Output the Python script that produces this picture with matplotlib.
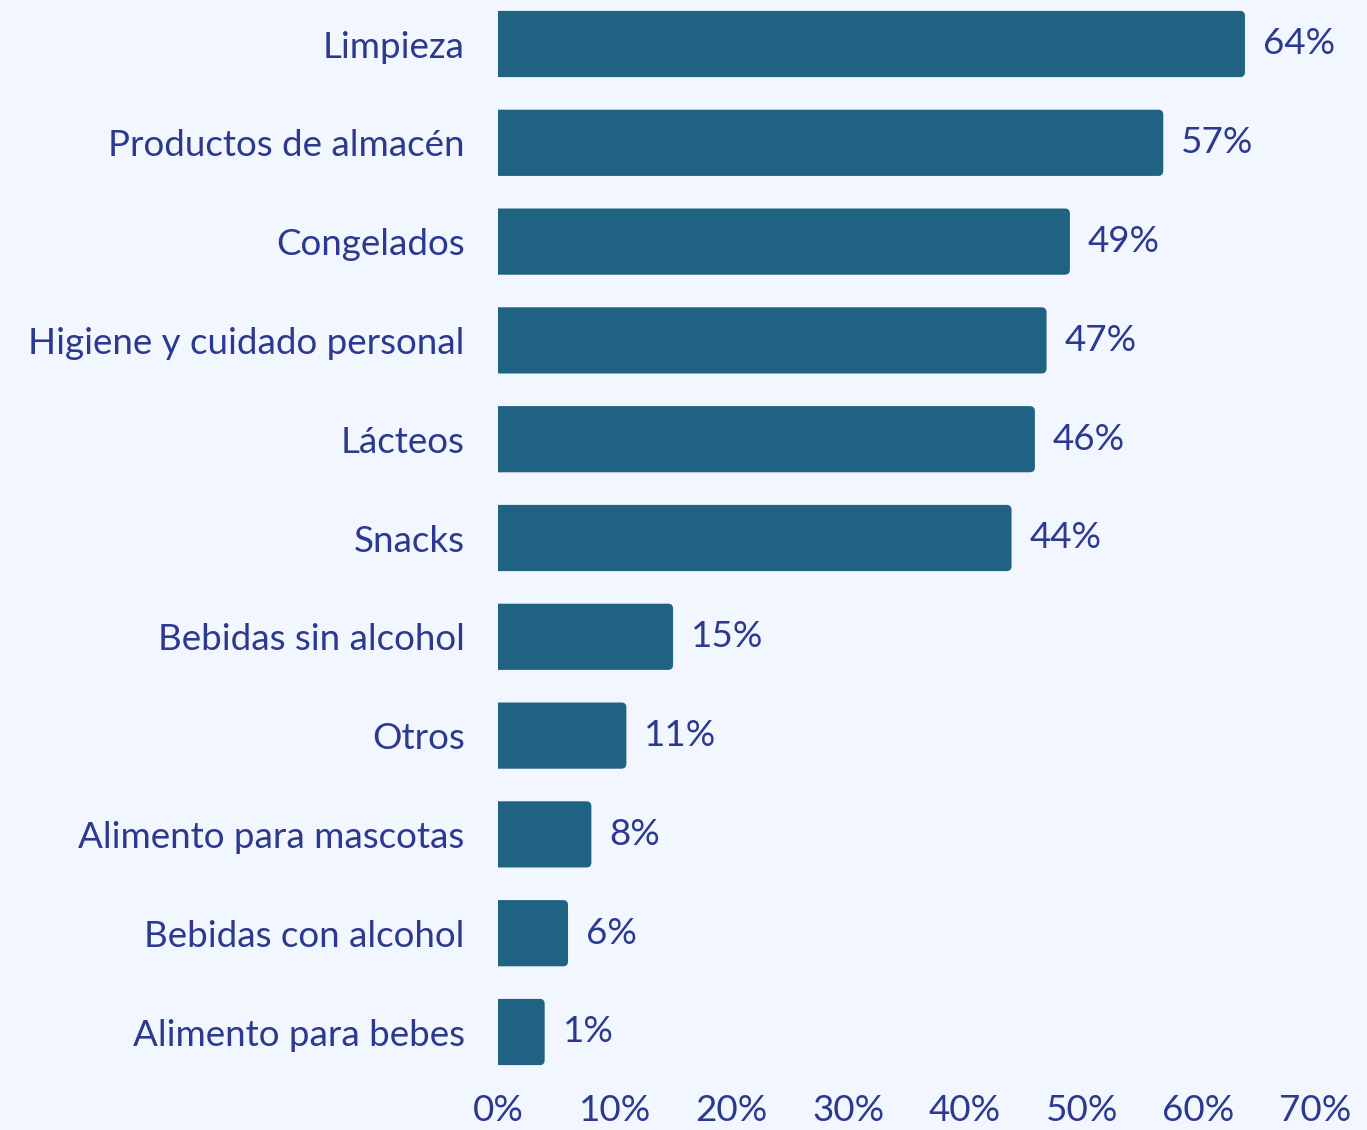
import matplotlib
matplotlib.use("Agg")
import matplotlib.pyplot as plt
from matplotlib.patches import PathPatch
from matplotlib.path import Path

categories = ["Limpieza", "Productos de almacén", "Congelados",
              "Higiene y cuidado personal", "Lácteos", "Snacks",
              "Bebidas sin alcohol", "Otros", "Alimento para mascotas",
              "Bebidas con alcohol", "Alimento para bebes"]
values = [64, 57, 49, 47, 46, 44, 15, 11, 8, 6, 1]
xticks = [0, 10, 20, 30, 40, 50, 60, 70]
xticklabels = ["0%", "10%", "20%", "30%", "40%", "50%", "60%", "70%"]

BG = "#F2F6FE"
BAR = "#1F6282"
TXT = "#2B3990"
MIN_LEN = 4  # minimum visible bar length
FS = 26.5

plt.rcParams['font.family'] = ['Lato', 'DejaVu Sans']

W, H = 1367, 1130
fig = plt.figure(figsize=(W / 100, H / 100), dpi=100, facecolor=BG)
left_px, right_px = 498, 1315
top_px, bot_px = 0, 1075
ax = fig.add_axes([left_px / W, 1 - bot_px / H, (right_px - left_px) / W, (bot_px - top_px) / H])
ax.set_facecolor(BG)

step = 98.8
a = 44 / step
ax.set_xlim(0, 70)
ax.set_ylim(bot_px / step - a, -a)

ypos = list(range(len(categories)))
disp = [max(v, MIN_LEN) for v in values]
bars = ax.barh(ypos, disp, height=0.67, color=BAR, linewidth=0)

px_x = (right_px - left_px) / 70.0
px_y = step
rx = 5 / px_x
ry = 5 / px_y
for rect in bars:
    x0, y0 = rect.get_x(), rect.get_y()
    w, h = rect.get_width(), rect.get_height()
    x1, y1 = x0 + w, y0 + h
    verts = [(x0, y0), (x1 - rx, y0), (x1, y0), (x1, y0 + ry),
             (x1, y1 - ry), (x1, y1), (x1 - rx, y1), (x0, y1), (x0, y0)]
    codes = [Path.MOVETO, Path.LINETO, Path.CURVE3, Path.CURVE3,
             Path.LINETO, Path.CURVE3, Path.CURVE3, Path.LINETO, Path.CLOSEPOLY]
    ax.add_patch(PathPatch(Path(verts, codes), facecolor=BAR, edgecolor="none", linewidth=0))
    rect.set_visible(False)

off = 18 / px_x
for y, d, v in zip(ypos, disp, values):
    ax.text(d + off, y, f"{v}%", va="center", ha="left", color=TXT, fontsize=FS)

ax.set_yticks(ypos)
ax.set_yticklabels(categories, fontsize=FS, color=TXT)
ax.set_xticks(xticks)
ax.set_xticklabels(xticklabels, fontsize=FS, color=TXT)
ax.tick_params(axis="y", length=0, pad=24)
ax.tick_params(axis="x", length=0, pad=14)
for s in ax.spines.values():
    s.set_visible(False)

fig.savefig("out.png", dpi=100, facecolor=BG)
